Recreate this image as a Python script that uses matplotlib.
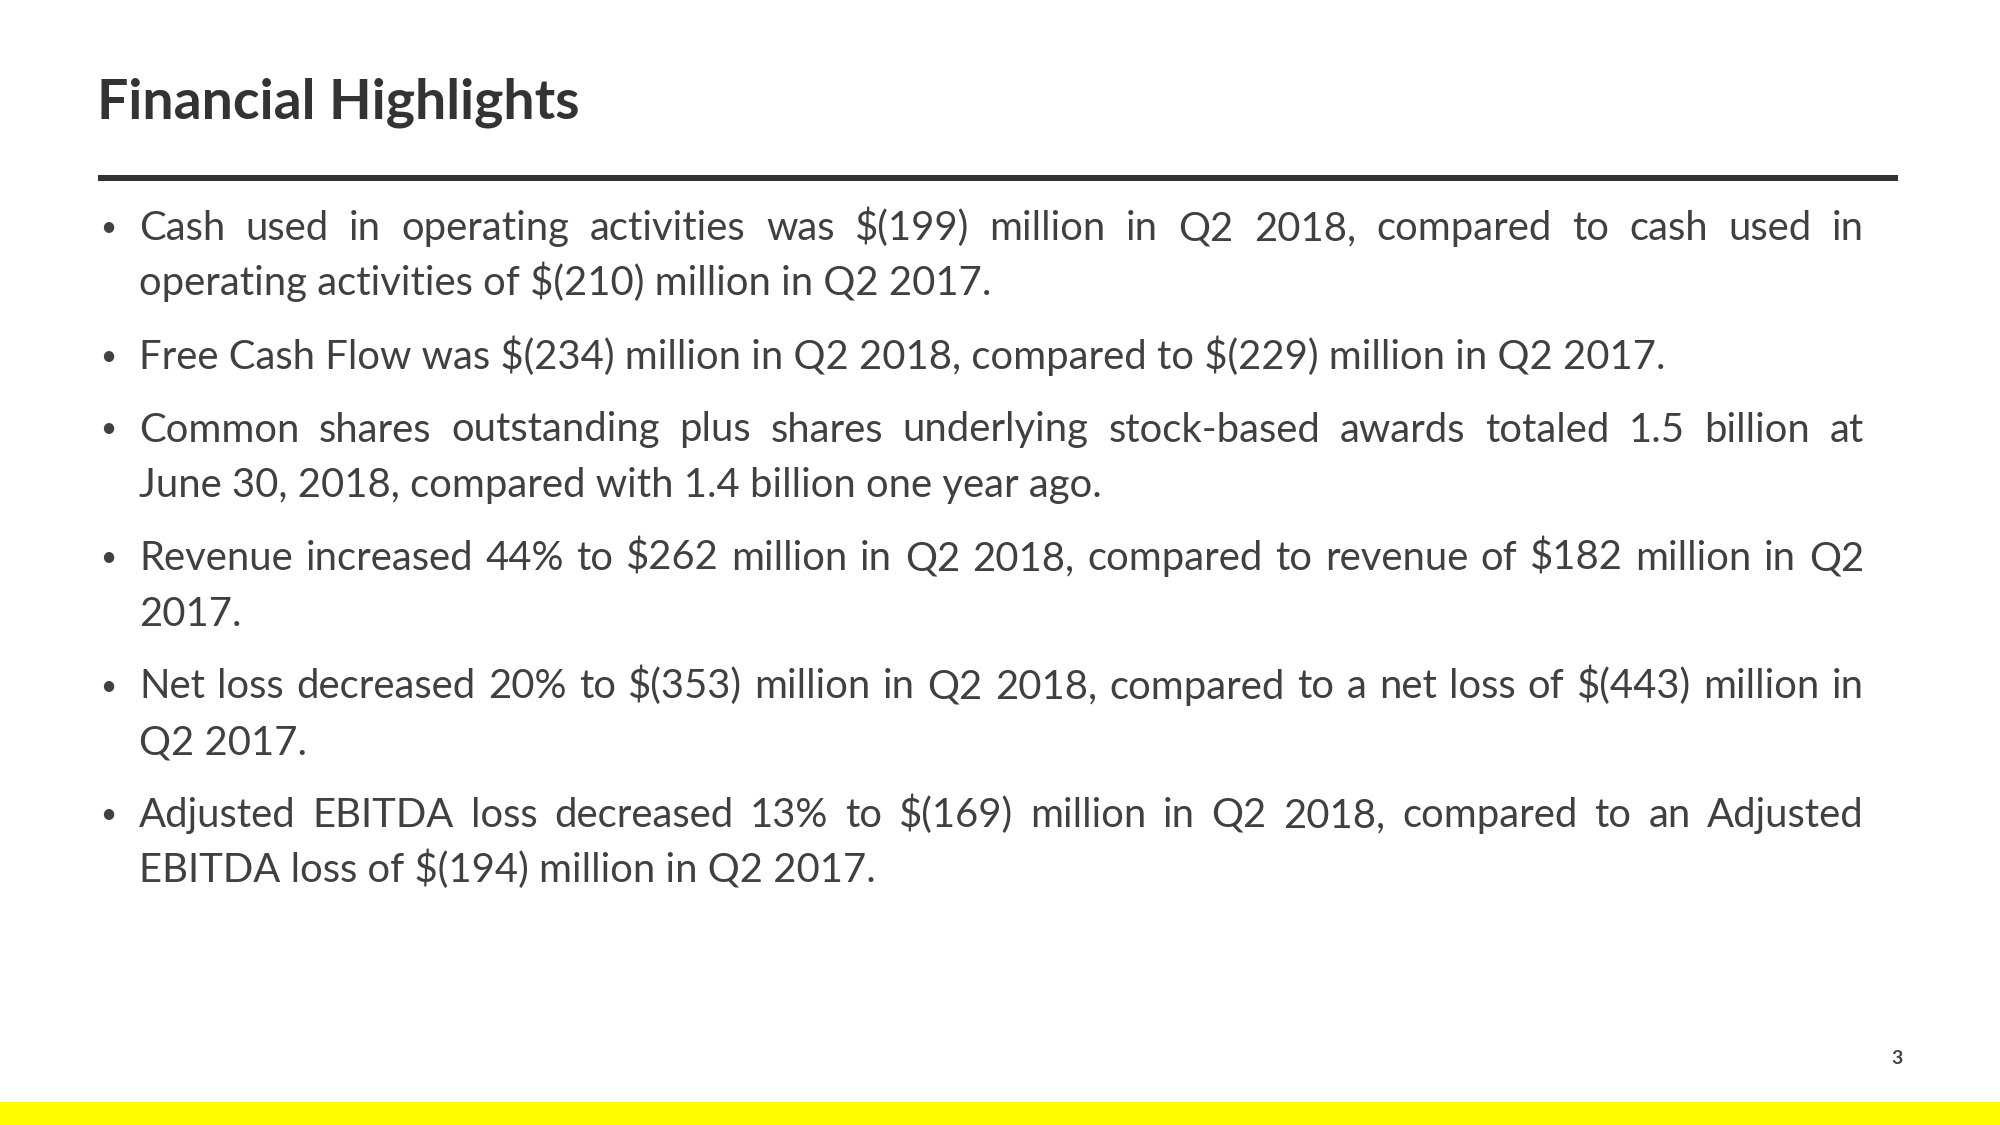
import matplotlib
matplotlib.use("Agg")
import matplotlib.pyplot as plt
from matplotlib.patches import Rectangle

# Slide content
titleText = "Financial Highlights"
pageNumber = "3"

# Each bullet is kept as the wrapped lines seen on the slide.
bullet1 = ["Cash used in operating activities was $(199) million in Q2 2018, compared to cash used in",
           "operating activities of $(210) million in Q2 2017."]
bullet2 = ["Free Cash Flow was $(234) million in Q2 2018, compared to $(229) million in Q2 2017."]
bullet3 = ["Common shares outstanding plus shares underlying stock-based awards totaled 1.5 billion at",
           "June 30, 2018, compared with 1.4 billion one year ago."]
bullet4 = ["Revenue increased 44% to $262 million in Q2 2018, compared to revenue of $182 million in Q2",
           "2017."]
bullet5 = ["Net loss decreased 20% to $(353) million in Q2 2018, compared to a net loss of $(443) million in",
           "Q2 2017."]
bullet6 = ["Adjusted EBITDA loss decreased 13% to $(169) million in Q2 2018, compared to an Adjusted",
           "EBITDA loss of $(194) million in Q2 2017."]
bullets = [bullet1, bullet2, bullet3, bullet4, bullet5, bullet6]

# Dollar signs are literal text here, not mathtext.
plt.rcParams["text.parse_math"] = False

textColor = "#404040"
snapYellow = "#FFFC00"
bodyFont = "Lato"
bodySize = 28.8
titleSize = 39.9

W, H = 2000, 1125
fig = plt.figure(figsize=(20, 11.25), dpi=100)
ax = fig.add_axes([0, 0, 1, 1])
ax.set_xlim(0, W)
ax.set_ylim(H, 0)
ax.axis("off")

renderer = fig.canvas.get_renderer()

# Title and rule under it
ax.text(97, 118, titleText, fontsize=titleSize, fontweight="bold",
        family=bodyFont, color="#333333", va="baseline", ha="left")
ax.add_patch(Rectangle((98, 175), 1800, 6, color="#333333", lw=0))

# Body text
textLeft = 139
textRight = 1864
bulletX = 108
firstBaseline = 240
lineStep = 55.5
paraStep = 73


def TextWidth(s):
    t = ax.text(0, 0, s, fontsize=bodySize, family=bodyFont)
    w = t.get_window_extent(renderer).width
    t.remove()
    return w


y = firstBaseline
for para in bullets:
    ax.text(bulletX, y - 12, "\u2022", fontsize=bodySize * 0.7,
            family=bodyFont, color=textColor, ha="center", va="center")
    for i, line in enumerate(para):
        isLast = i == len(para) - 1
        if isLast:
            ax.text(textLeft, y, line, fontsize=bodySize, family=bodyFont,
                    color=textColor, va="baseline", ha="left")
        else:
            # Justify: spread the spare room evenly between the words.
            words = line.split(" ")
            widths = [TextWidth(w) for w in words]
            gap = (textRight - textLeft - sum(widths)) / (len(words) - 1)
            x = textLeft
            for w, wd in zip(words, widths):
                ax.text(x, y, w, fontsize=bodySize, family=bodyFont,
                        color=textColor, va="baseline", ha="left")
                x += wd + gap
        if not isLast:
            y += lineStep
    y += paraStep

# Page number and yellow footer bar
ax.text(1897, 1058, pageNumber, fontsize=14, fontweight="bold",
        family=bodyFont, color="#444444", ha="center", va="center")
ax.add_patch(Rectangle((0, 1102), W, H - 1102, color=snapYellow, lw=0))

fig.savefig("out.png", dpi=100)
